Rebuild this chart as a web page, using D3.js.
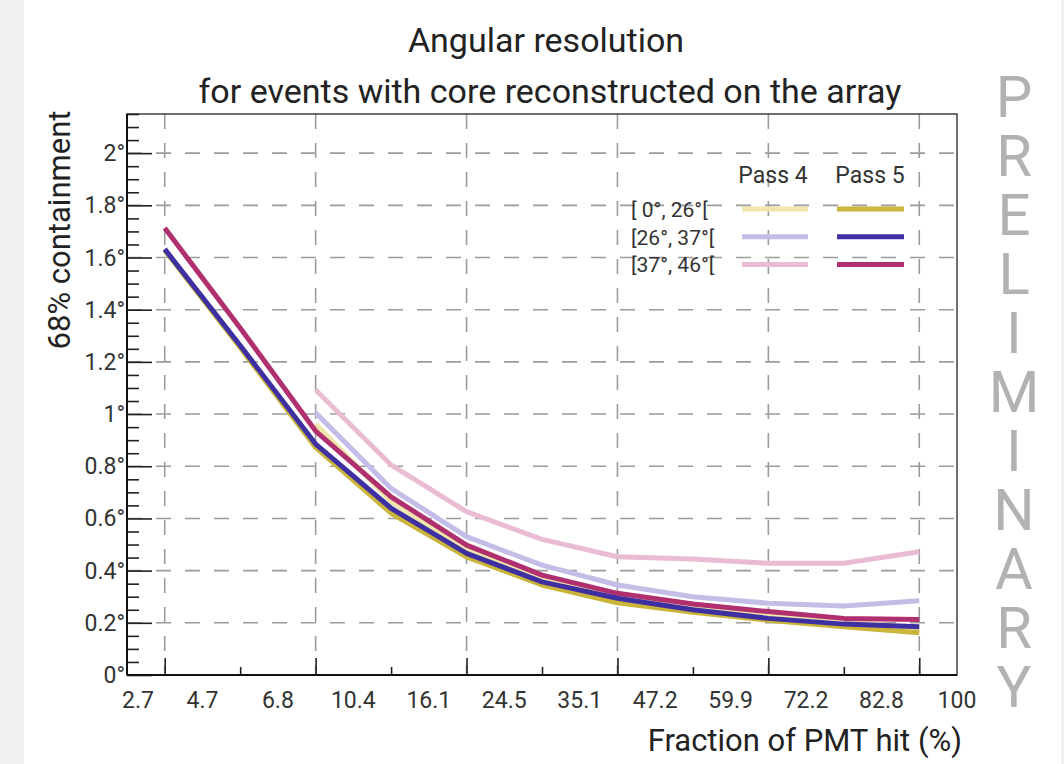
<!DOCTYPE html>
<html>
<head>
<meta charset="utf-8">
<script src="https://cdn.jsdelivr.net/npm/d3@7"></script>
<style>
  body { margin: 0; background: #f1f1f1; }
  svg { display: block; font-family: Roboto, "Noto Sans", sans-serif; }
</style>
</head>
<body>
<div id="chart"></div>
<script>
// bin edges of the PMT hit fraction (%) - printed under the axis
var binEdges = ["2.7", "4.7", "6.8", "10.4", "16.1", "24.5", "35.1", "47.2", "59.9", "72.2", "82.8", "100"];

// 68% containment radius (degrees) per bin, by zenith band
var pass5_0_26  = [1.628, 1.255, 0.872, 0.620, 0.453, 0.345, 0.277, 0.240, 0.210, 0.185, 0.162];
var pass5_26_37 = [1.632, 1.263, 0.885, 0.639, 0.466, 0.357, 0.294, 0.250, 0.217, 0.195, 0.185];
var pass5_37_46 = [1.713, 1.330, 0.935, 0.683, 0.498, 0.383, 0.313, 0.272, 0.243, 0.217, 0.213];
var pass4_0_26  = [null, null, 0.962, 0.665, 0.480, 0.365, 0.300, 0.260, 0.230, 0.205, 0.180];
var pass4_26_37 = [null, null, 1.005, 0.715, 0.530, 0.421, 0.345, 0.300, 0.275, 0.264, 0.285];
var pass4_37_46 = [null, null, 1.092, 0.805, 0.626, 0.520, 0.453, 0.445, 0.428, 0.428, 0.472];

var bands = ["[ 0°, 26°[", "[26°, 37°[", "[37°, 46°["];
var yTicks = [0, 0.2, 0.4, 0.6, 0.8, 1, 1.2, 1.4, 1.6, 1.8, 2];

var w = 1064;
var h = 764;

var svg = d3.select("#chart").append("svg").attr("width", w).attr("height", h);

// white card
svg.append("rect").attr("x", 24).attr("y", 0).attr("width", 1037).attr("height", h).attr("fill", "white");

var xScale = d3.scaleLinear().domain([0, binEdges.length - 1]).range([127, 957]);
var yScale = d3.scaleLinear().domain([0, 2.15]).range([675, 114]);

// dashed grid
var grid = svg.append("g").attr("stroke", "#9c9c9c").attr("stroke-width", 1.6).attr("stroke-dasharray", "15,14");
grid.selectAll("line.h").data(yTicks.slice(1)).enter().append("line")
    .attr("x1", xScale(0)).attr("x2", xScale(11))
    .attr("y1", function (d) { return yScale(d); })
    .attr("y2", function (d) { return yScale(d); });
var gridX = [0.5, 2.5, 4.5, 6.5, 8.5, 10.5];
grid.selectAll("line.v").data(gridX).enter().append("line")
    .attr("y1", yScale(2.15)).attr("y2", yScale(0))
    .attr("x1", function (d) { return xScale(d); })
    .attr("x2", function (d) { return xScale(d); });

// frame
svg.append("rect")
    .attr("x", xScale(0)).attr("y", yScale(2.15))
    .attr("width", xScale(11) - xScale(0)).attr("height", yScale(0) - yScale(2.15))
    .attr("fill", "none").attr("stroke", "#222").attr("stroke-width", 1.3);

// y axis: majors every 0.2, minors every 0.05
var yAxis = d3.axisRight(yScale).tickValues(yTicks).tickSize(25).tickFormat("");
svg.append("g").attr("transform", "translate(" + xScale(0) + ",0)").call(yAxis)
    .call(function (g) { g.select(".domain").remove(); g.selectAll("line").attr("stroke", "#222").attr("stroke-width", 1.6); });
var yMinor = d3.range(0, 2.151, 0.05).filter(function (d) { return Math.abs(d * 5 - Math.round(d * 5)) > 0.01; });
var yAxisMinor = d3.axisRight(yScale).tickValues(yMinor).tickSize(12).tickFormat("");
svg.append("g").attr("transform", "translate(" + xScale(0) + ",0)").call(yAxisMinor)
    .call(function (g) { g.select(".domain").remove(); g.selectAll("line").attr("stroke", "#222").attr("stroke-width", 1.6); });

svg.append("g").selectAll("text").data(yTicks).enter().append("text")
    .attr("x", 125)
    .attr("y", function (d) { return yScale(d) + 8; })
    .attr("text-anchor", "end")
    .attr("font-size", "23px")
    .attr("fill", "#333")
    .text(function (d) { return d + "°"; });

// x axis ticks at bin centres
var xMajor = [0.5, 2.5, 4.5, 6.5, 8.5, 10.5];
var xMinor = [1.5, 3.5, 5.5, 7.5, 9.5];
var xAxis = d3.axisTop(xScale).tickValues(xMajor).tickSize(17).tickFormat("");
svg.append("g").attr("transform", "translate(0," + yScale(0) + ")").call(xAxis)
    .call(function (g) { g.select(".domain").remove(); g.selectAll("line").attr("stroke", "#222").attr("stroke-width", 1.6); });
var xAxisMinor = d3.axisTop(xScale).tickValues(xMinor).tickSize(8).tickFormat("");
svg.append("g").attr("transform", "translate(0," + yScale(0) + ")").call(xAxisMinor)
    .call(function (g) { g.select(".domain").remove(); g.selectAll("line").attr("stroke", "#222").attr("stroke-width", 1.6); });

// axis lines drawn heavier on left and bottom
svg.append("line").attr("x1", xScale(0)).attr("x2", xScale(0)).attr("y1", yScale(2.15)).attr("y2", yScale(0))
    .attr("stroke", "#111").attr("stroke-width", 2);
svg.append("line").attr("x1", xScale(0)).attr("x2", xScale(11)).attr("y1", yScale(0)).attr("y2", yScale(0))
    .attr("stroke", "#111").attr("stroke-width", 2);

svg.append("g").selectAll("text").data(binEdges).enter().append("text")
    .attr("x", function (d, i) { return i === 0 ? xScale(i) - 5 : xScale(i); })
    .attr("y", 708)
    .attr("text-anchor", function (d, i) { return i === 0 ? "start" : "middle"; })
    .attr("font-size", "23px")
    .attr("fill", "#333")
    .text(function (d) { return d; });

// curves
var series = [
    { values: pass4_0_26, color: "#efe6ab" },
    { values: pass4_26_37, color: "#c4bde8" },
    { values: pass4_37_46, color: "#e9bcd4" },
    { values: pass5_0_26, color: "#cbb43a" },
    { values: pass5_37_46, color: "#b0306f" },
    { values: pass5_26_37, color: "#3e2fa3" }
];

var line = d3.line()
    .defined(function (d) { return d !== null; })
    .x(function (d, i) { return xScale(i + 0.5); })
    .y(function (d) { return yScale(d); });

svg.append("g").selectAll("path").data(series).enter().append("path")
    .attr("d", function (d) { return line(d.values); })
    .attr("fill", "none")
    .attr("stroke", function (d) { return d.color; })
    .attr("stroke-width", 5)
    .attr("stroke-linejoin", "round");

// legend
var legend = svg.append("g");
legend.append("text").attr("x", 773).attr("y", 183).attr("text-anchor", "middle")
    .attr("font-size", "23px").attr("fill", "#333").text("Pass 4");
legend.append("text").attr("x", 870).attr("y", 183).attr("text-anchor", "middle")
    .attr("font-size", "23px").attr("fill", "#333").text("Pass 5");
var legendRows = [
    { label: bands[0], pass4: series[0].color, pass5: series[3].color },
    { label: bands[1], pass4: series[1].color, pass5: series[5].color },
    { label: bands[2], pass4: series[2].color, pass5: series[4].color }
];
var legspacing = 27.7;
var rows = legend.selectAll("g.row").data(legendRows).enter().append("g")
    .attr("transform", function (d, i) { return "translate(0," + (209 + i * legspacing) + ")"; });
rows.append("text").attr("x", 631).attr("y", 8).attr("font-size", "21px").attr("fill", "#333")
    .text(function (d) { return d.label; });
rows.append("line").attr("x1", 742).attr("x2", 808).attr("stroke-width", 5)
    .attr("stroke", function (d) { return d.pass4; });
rows.append("line").attr("x1", 837).attr("x2", 904).attr("stroke-width", 5)
    .attr("stroke", function (d) { return d.pass5; });

// titles
svg.append("text").attr("x", 546).attr("y", 52).attr("text-anchor", "middle")
    .attr("font-size", "34px").attr("fill", "#222").text("Angular resolution");
svg.append("text").attr("x", 550).attr("y", 103).attr("text-anchor", "middle")
    .attr("font-size", "34px").attr("fill", "#222").text("for events with core reconstructed on the array");
svg.append("text").attr("transform", "translate(70,230) rotate(-90)").attr("text-anchor", "middle")
    .attr("font-size", "31px").attr("fill", "#222").text("68% containment");
svg.append("text").attr("x", 962).attr("y", 751).attr("text-anchor", "end")
    .attr("font-size", "31px").attr("fill", "#222").text("Fraction of PMT hit (%)");

// watermark, written top to bottom
svg.append("text")
    .attr("x", 1014)
    .attr("y", 63)
    .attr("font-size", "58px")
    .attr("fill", "#b2b2b2")
    .style("writing-mode", "vertical-rl")
    .style("text-orientation", "upright")
    .style("letter-spacing", "-9px")
    .text("PRELIMINARY");
</script>
</body>
</html>
